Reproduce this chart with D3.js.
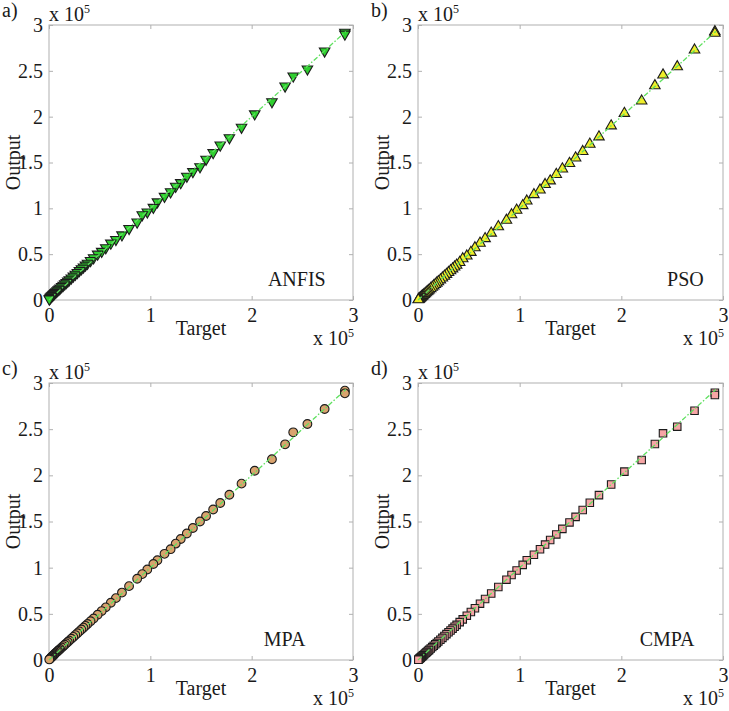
<!DOCTYPE html>
<html><head><meta charset="utf-8">
<script src="https://cdn.jsdelivr.net/npm/d3@7"></script>
<style>
html,body{margin:0;padding:0;background:#fff;}
svg text{font-family:"Liberation Serif","Times New Roman",serif;fill:#1a1a1a;}
</style></head>
<body><svg id="chart" width="729" height="711"></svg>
<script>
// values in units of 10^5
const target = [2.92,2.92,2.72,2.55,2.41,2.33,2.20,2.03,1.90,1.78,
  1.69,1.62,1.55,1.49,1.42,1.36,1.30,1.25,1.20,1.14,
  1.07,1.03,0.97,0.92,0.87,0.79,0.72,0.66,0.61,0.56,
  0.52,0.48,0.44,0.41,0.38,0.36,0.34,0.32,0.30,0.28,
  0.26,0.24,0.22,0.20,0.185,0.17,0.155,0.14,0.125,0.11,
  0.10,0.09,0.08,0.07,0.06,0.052,0.045,0.038,0.032,0.026,
  0.02,0.015,0.01,0.006,0.003];
const anfisOut = [2.92,2.90,2.716,2.52,2.444,2.334,2.163,2.03,1.884,1.77,
  1.69,1.607,1.535,1.454,1.40,1.35,1.28,1.24,1.18,1.13,
  1.07,1.01,0.96,0.93,0.85,0.78,0.71,0.66,0.62,0.57,
  0.53,0.50,0.46,0.43,0.40,0.38,0.36,0.34,0.32,0.30,
  0.28,0.26,0.24,0.22,0.205,0.19,0.175,0.16,0.145,0.13,
  0.12,0.11,0.10,0.09,0.08,0.07,0.062,0.055,0.048,0.042,
  0.035,0.028,0.022,0.016,0.01];
const psoOut = [2.928,2.91,2.727,2.545,2.455,2.338,2.171,2.036,1.90,1.78,
  1.70,1.62,1.55,1.49,1.43,1.37,1.30,1.26,1.20,1.15,
  1.08,1.03,0.98,0.93,0.87,0.80,0.73,0.67,0.62,0.57,
  0.52,0.48,0.45,0.41,0.38,0.36,0.34,0.32,0.30,0.28,
  0.26,0.24,0.22,0.20,0.185,0.17,0.155,0.14,0.125,0.11,
  0.10,0.09,0.08,0.07,0.06,0.052,0.045,0.038,0.032,0.026,
  0.02,0.015,0.01,0.006,0.003];
const mpaOut = [2.917,2.888,2.718,2.556,2.466,2.336,2.174,2.05,1.91,1.79,
  1.70,1.63,1.56,1.50,1.43,1.37,1.31,1.26,1.20,1.15,
  1.08,1.04,0.98,0.93,0.88,0.80,0.73,0.67,0.62,0.57,
  0.53,0.49,0.45,0.42,0.39,0.37,0.35,0.33,0.31,0.29,
  0.27,0.25,0.23,0.21,0.195,0.18,0.165,0.15,0.135,0.12,
  0.11,0.10,0.09,0.08,0.07,0.06,0.052,0.045,0.038,0.032,
  0.026,0.02,0.015,0.01,0.006];
const cmpaOut = [2.895,2.87,2.70,2.527,2.455,2.34,2.166,2.04,1.90,1.786,
  1.703,1.625,1.55,1.49,1.42,1.36,1.30,1.25,1.20,1.14,
  1.08,1.03,0.97,0.92,0.87,0.79,0.72,0.66,0.61,0.56,
  0.52,0.48,0.44,0.41,0.38,0.36,0.34,0.32,0.30,0.28,
  0.26,0.24,0.22,0.20,0.185,0.17,0.155,0.14,0.125,0.11,
  0.10,0.09,0.08,0.07,0.06,0.052,0.045,0.038,0.032,0.026,
  0.02,0.015,0.01,0.006,0.003];
const xTicks = [0,1,2,3];
const xTickLabels = ["0","1","2","3"];
const yTicks = [0,0.5,1,1.5,2,2.5,3];
const yTickLabels = ["0","0.5","1","1.5","2","2.5","3"];
const panelLetters = ["a)","b)","c)","d)"];
const modelNames = ["ANFIS","PSO","MPA","CMPA"];
const nameX = [2.16,2.45,2.12,2.18];
const fitLine = [0, 2.93];

const outputs = [anfisOut, psoOut, mpaOut, cmpaOut];
const layout = [
  {l:49, t:25, w:304, h:275},
  {l:418, t:25, w:305, h:275},
  {l:49, t:383, w:304, h:277},
  {l:418, t:383, w:305, h:277}
];
const styles = [
  {sym:d3.symbolTriangle, rot:180, size:48, fill:"#2fcf2f"},
  {sym:d3.symbolTriangle, rot:0, size:48, fill:"#f0ee2a"},
  {sym:d3.symbolCircle, rot:0, size:60, fill:"#d9a36e"},
  {sym:d3.symbolSquare, rot:0, size:56, fill:"#f6a5a5"}
];

const svg = d3.select("#chart");
const FS = 20;

layout.forEach((L, i) => {
  const g = svg.append("g").attr("transform", `translate(${L.l},${L.t})`);
  const x = d3.scaleLinear().domain([0,3]).range([0, L.w]);
  const y = d3.scaleLinear().domain([0,3]).range([L.h, 0]);

  g.append("rect").attr("x",0).attr("y",0).attr("width",L.w).attr("height",L.h)
    .attr("fill","none").attr("stroke","#b0b0b0").attr("stroke-width",1);

  const ax = g.append("g").attr("transform",`translate(0,${L.h})`)
    .call(d3.axisBottom(x).tickValues(xTicks).tickFormat((d,k)=>xTickLabels[k]).tickSizeInner(-4).tickSizeOuter(0).tickPadding(8));
  const axT = g.append("g")
    .call(d3.axisTop(x).tickValues(xTicks).tickFormat("").tickSizeInner(-4).tickSizeOuter(0));
  const ay = g.append("g")
    .call(d3.axisLeft(y).tickValues(yTicks).tickFormat((d,k)=>yTickLabels[k]).tickSizeInner(-4).tickSizeOuter(0).tickPadding(6));
  const ayR = g.append("g").attr("transform",`translate(${L.w},0)`)
    .call(d3.axisRight(y).tickValues(yTicks).tickFormat("").tickSizeInner(-4).tickSizeOuter(0));
  [ax,axT,ay,ayR].forEach(a=>{
    a.select(".domain").remove();
    a.selectAll(".tick line").attr("stroke","#b0b0b0");
    a.selectAll("text").attr("font-size",FS).attr("font-family","Liberation Serif").attr("fill","#1a1a1a");
  });
  ax.selectAll("text").attr("dy","0.71em");

  const pts = target.map((t,k)=>({t, o: outputs[i][k]}));
  const st = styles[i];
  const symGen = d3.symbol().type(st.sym).size(st.size);
  g.append("g").selectAll("path").data(pts).join("path")
    .attr("d", symGen)
    .attr("transform", d=>`translate(${x(d.t)},${y(d.o)}) rotate(${st.rot})`)
    .attr("fill", st.fill).attr("stroke","#1c1c1c").attr("stroke-width",1.1);

  g.append("line")
    .attr("x1",x(fitLine[0])).attr("y1",y(fitLine[0]))
    .attr("x2",x(fitLine[1])).attr("y2",y(fitLine[1]))
    .attr("stroke","#5fe05f").attr("stroke-width",1.3).attr("stroke-dasharray","5,2,1.5,2");

  g.append("text").attr("x", x(nameX[i])).attr("y", L.h-14).attr("font-size",FS).text(modelNames[i]);
  g.append("text").attr("x", L.w/2).attr("y", L.h+35).attr("text-anchor","middle").attr("font-size",FS).text("Target");
  g.append("text").attr("transform",`translate(${-29},${L.h/2}) rotate(-90)`).attr("text-anchor","middle").attr("font-size",FS).text("Output");
  const m1 = g.append("text").attr("x",0).attr("y",-4).attr("font-size",FS);
  m1.append("tspan").text("x 10");
  m1.append("tspan").attr("dy",-8).attr("font-size",12).text("5");
  const m2 = g.append("text").attr("x",L.w-40).attr("y",L.h+45).attr("font-size",FS);
  m2.append("tspan").text("x 10");
  m2.append("tspan").attr("dy",-8).attr("font-size",12).text("5");
  g.append("text").attr("x",-47).attr("y",-8).attr("font-size",FS).text(panelLetters[i]);
});
</script></body></html>
